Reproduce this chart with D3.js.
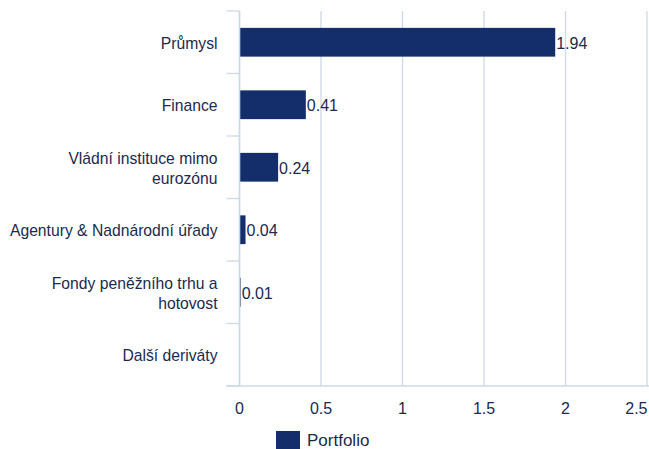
<!DOCTYPE html>
<html>
<head>
<meta charset="utf-8">
<script src="https://cdn.jsdelivr.net/npm/d3@7"></script>
<style>
  body { margin: 0; background: #fff; }
  svg { display: block; }
  text { font-family: "Liberation Sans", Arial, sans-serif; fill: #1b2a4e; }
</style>
</head>
<body>
<svg id="chart" width="649" height="449"></svg>
<script>
// data
var categories = ["Průmysl", "Finance", "Vládní instituce mimo eurozónu",
  "Agentury & Nadnárodní úřady", "Fondy peněžního trhu a hotovost", "Další deriváty"];
var labelLines = [["Průmysl"], ["Finance"], ["Vládní instituce mimo", "eurozónu"],
  ["Agentury & Nadnárodní úřady"], ["Fondy peněžního trhu a", "hotovost"], ["Další deriváty"]];
var values = [1.94, 0.41, 0.24, 0.04, 0.01, null];
var xTicks = [0, 0.5, 1, 1.5, 2, 2.5];
var seriesName = "Portfolio";

var svg = d3.select("#chart");
var margin = {top: 11, right: 2, bottom: 63, left: 239.5};
var width = 649 - margin.left - margin.right,
    height = 449 - margin.top - margin.bottom;

var barColor = "#132e6b",
    gridColor = "#cdd8e8";

var g = svg.append("g").attr("transform", "translate(" + margin.left + "," + margin.top + ")");

var x = d3.scaleLinear().domain([0, 2.5]).range([0, 407.5]);
var y = d3.scaleBand().domain(categories).range([0, height]).paddingInner(0.54).paddingOuter(0.27);
var band = d3.scaleBand().domain(categories).range([0, height]);

// bars
g.selectAll("rect.bar")
  .data(values)
  .enter().filter(function(d) { return d != null; }).append("rect")
  .attr("class", "bar")
  .attr("x", x(0) + 0.5)
  .attr("y", function(d, i) { return y(categories[i]); })
  .attr("width", function(d) { return x(d) - x(0) - 1; })
  .attr("height", y.bandwidth())
  .attr("fill", barColor);

// grid lines behind the bars
g.selectAll("line.grid")
  .data(xTicks)
  .enter().append("line")
  .attr("class", "grid")
  .attr("x1", function(d) { return x(d); })
  .attr("x2", function(d) { return x(d); })
  .attr("y1", 0)
  .attr("y2", height)
  .attr("stroke", gridColor)
  .attr("stroke-width", 1.3)
  .lower();

// zero line on top
g.append("line")
  .attr("x1", 0).attr("x2", 0)
  .attr("y1", 0).attr("y2", height)
  .attr("stroke", gridColor)
  .attr("stroke-width", 1.6);

// category separators on the left axis
g.selectAll("line.sep")
  .data(categories.concat(["end"]))
  .enter().append("line")
  .attr("class", "sep")
  .attr("x1", -13)
  .attr("x2", 0)
  .attr("y1", function(d, i) { return i * band.step(); })
  .attr("y2", function(d, i) { return i * band.step(); })
  .attr("stroke", gridColor)
  .attr("stroke-width", 1.3);

// bottom axis line
g.append("line")
  .attr("x1", -13).attr("x2", width + 2)
  .attr("y1", height).attr("y2", height)
  .attr("stroke", gridColor)
  .attr("stroke-width", 1.3);

// value labels
values.forEach(function(d, i) {
  if (d == null) return;
  g.append("text")
    .attr("x", x(d) + 0.5)
    .attr("y", y(categories[i]) + y.bandwidth() / 2 + 1)
    .attr("dy", "0.35em")
    .style("font-size", "16px")
    .text(d.toFixed(2));
});

// category labels
labelLines.forEach(function(lines, i) {
  var cy = band(categories[i]) + band.bandwidth() / 2 + 1;
  var t = g.append("text")
    .attr("text-anchor", "end")
    .style("font-size", "15.7px");
  lines.forEach(function(s, j) {
    t.append("tspan")
      .attr("x", -22)
      .attr("y", cy + (j - (lines.length - 1) / 2) * 20)
      .attr("dy", "0.35em")
      .text(s);
  });
});

// x tick labels (last one kept inside the canvas)
g.selectAll("text.xtick")
  .data(xTicks)
  .enter().append("text")
  .attr("class", "xtick")
  .attr("x", function(d, i) { return i === xTicks.length - 1 ? width + 0.5 : x(d); })
  .attr("y", height + 22)
  .attr("dy", "0.35em")
  .attr("text-anchor", function(d, i) { return i === xTicks.length - 1 ? "end" : "middle"; })
  .style("font-size", "16px")
  .text(function(d) { return d; });

// legend
var legend = svg.append("g").attr("transform", "translate(276,431)");
legend.append("rect").attr("width", 24).attr("height", 19).attr("fill", barColor);
legend.append("text")
  .attr("x", 31).attr("y", 9.5).attr("dy", "0.35em")
  .style("font-size", "17px")
  .text(seriesName);
</script>
</body>
</html>
